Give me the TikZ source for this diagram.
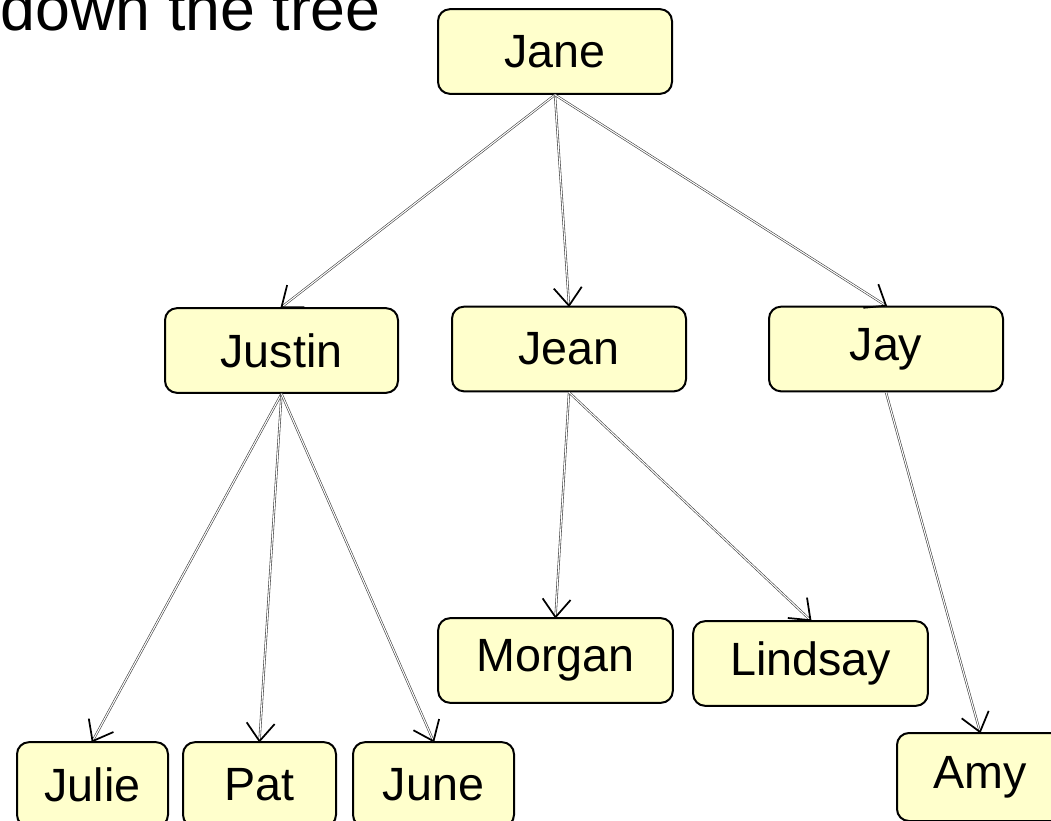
\documentclass[tikz,border=0pt]{standalone}
\usepackage{fontspec}
\setmainfont{Liberation Sans}
\usetikzlibrary{decorations.markings}
\definecolor{boxfill}{RGB}{255,255,204}
\tikzset{
  person/.style={draw=black, line width=1.5pt, fill=boxfill, rounded corners=9pt,
    minimum height=63.5pt, inner sep=0pt, font=\fontsize{35}{40}\selectfont},
  conn/.style={draw=black!75, line width=0.45pt, double=white, double distance=0.8pt,
    postaction={decorate, decoration={markings, mark=at position 1 with {
      \draw[black, line width=1.3pt, line join=miter] (-13.5pt,10.5pt) -- (0,0) -- (-13.5pt,-10.5pt);}}}},
  title/.style={font=\fontsize{47}{52}\selectfont, inner sep=0pt}
}
\begin{document}
\begin{tikzpicture}[x=0.75pt, y=-0.75pt]
\useasboundingbox (0,0) rectangle (1051,821);
\node[title, anchor=base east] (t) at (381,31) {down the tree};
\node[person, minimum width=175.5pt] (jane) at (555,51.5) {Jane};
\node[person, minimum width=174.75pt] (justin) at (281.5,350.5) {Justin};
\node[person, minimum width=175.5pt] (jean) at (569,349) {Jean};
\node[person, minimum width=175.5pt] (jay) at (886,349) {Jay};
\node[person, minimum width=176pt] (morgan) at (555.5,660.5) {Morgan};
\node[person, minimum width=176pt] (lindsay) at (810.5,663.5) {Lindsay};
\node[person, minimum width=113.25pt] (julie) at (92.5,784.5) {Julie};
\node[person, minimum width=114.75pt] (pat) at (259.5,784.5) {Pat};
\node[person, minimum width=120.75pt] (june) at (433.5,784.5) {June};
\node[person, minimum width=124.5pt, minimum height=66pt] (amy) at (980,777) {Amy};
\draw[conn] (jane.south) -- (justin.north);
\draw[conn] (jane.south) -- (jean.north);
\draw[conn] (jane.south) -- (jay.north);
\draw[conn] (justin.south) -- (julie.north);
\draw[conn] (justin.south) -- (pat.north);
\draw[conn] (justin.south) -- (june.north);
\draw[conn] (jean.south) -- (morgan.north);
\draw[conn] (jean.south) -- (lindsay.north);
\draw[conn] (jay.south) -- (amy.north);
\end{tikzpicture}
\end{document}
